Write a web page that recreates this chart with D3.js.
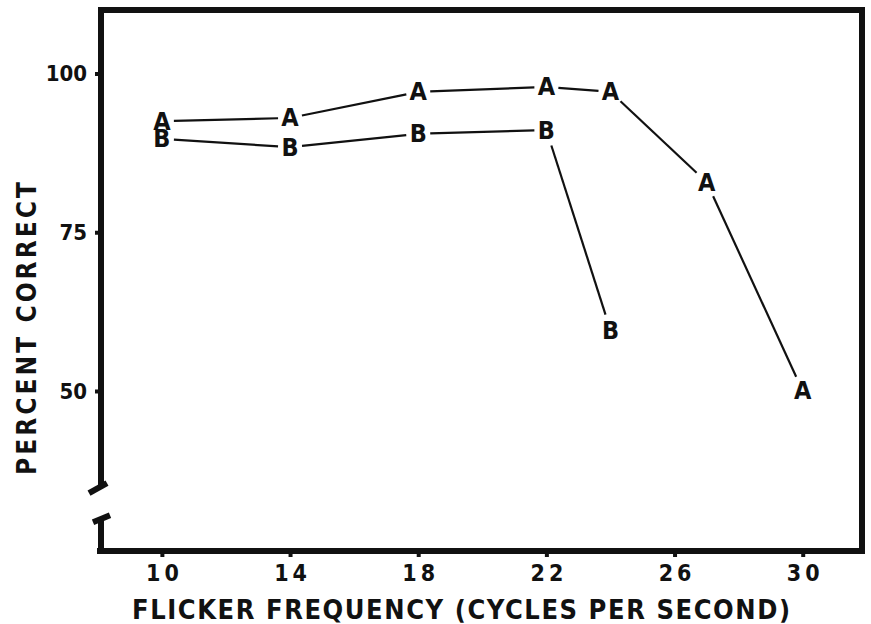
<!DOCTYPE html>
<html lang="en">
<head>
    <meta charset="UTF-8">
    <title>Flicker frequency</title>
    <script src="https://d3js.org/d3.v7.min.js"></script>
    <style>
        body { margin: 0; background: #fff; }
        text { font-family: "DejaVu Sans Condensed", "DejaVu Sans", sans-serif; font-weight: bold; fill: #111; }
    </style>
</head>
<body>
    <div id="my_dataviz"></div>
    <script>
        // data
        var freqA = [10, 14, 18, 22, 24, 27, 30];
        var pctA = [92.5, 93.0, 97.1, 97.9, 97.1, 82.9, 50.0];
        var freqB = [10, 14, 18, 22, 24];
        var pctB = [89.7, 88.4, 90.5, 91.1, 59.6];
        var xTicks = [10, 14, 18, 22, 26, 30];
        var yTicks = [50, 75, 100];

        var width = 871, height = 624;
        var plot = {left: 101, right: 862, top: 10, bottom: 551};

        var svg = d3.select("#my_dataviz")
          .append("svg")
            .attr("width", width)
            .attr("height", height);

        var x = d3.scaleLinear()
            .domain([8.1, 31.85])
            .range([plot.left, plot.right]);
        var y = d3.scaleLinear()
            .domain([24.8, 110])
            .range([plot.bottom, plot.top]);

        // frame: top and right border
        svg.append("path")
            .attr("d", "M" + (plot.left - 3) + "," + plot.top + "H" + plot.right + "V" + (plot.bottom + 3))
            .attr("fill", "none")
            .attr("stroke", "#111")
            .attr("stroke-width", 6);

        // x axis
        var xAxis = svg.append("g")
            .attr("transform", "translate(0," + plot.bottom + ")")
            .call(d3.axisBottom(x).tickValues(xTicks).tickSize(6).tickSizeOuter(0).tickPadding(8));
        xAxis.select(".domain")
            .attr("d", "M" + (plot.left - 4) + ",0H" + (plot.right + 3))
            .attr("stroke", "#111").attr("stroke-width", 6);
        xAxis.selectAll(".tick line").attr("stroke", "#111").attr("stroke-width", 4);
        xAxis.selectAll(".tick text")
            .style("font-size", "23px")
            .style("letter-spacing", "4px")
            .attr("dx", "2px");

        // y axis with a break near the bottom
        var yAxis = svg.append("g")
            .attr("transform", "translate(" + plot.left + ",0)")
            .call(d3.axisLeft(y).tickValues(yTicks).tickSize(6).tickSizeOuter(0).tickPadding(8));
        yAxis.select(".domain").remove();
        yAxis.selectAll(".tick line").attr("stroke", "#111").attr("stroke-width", 4);
        yAxis.selectAll(".tick text").style("font-size", "22px");

        var brk = y(32.8);
        var g = yAxis.append("g").attr("fill", "none").attr("stroke", "#111").attr("stroke-width", 6);
        g.append("path").attr("d", "M0," + plot.top + "V" + (brk - 15));
        g.append("path").attr("d", "M-12," + (brk - 7) + "L6," + (brk - 17));
        g.append("path").attr("d", "M-8," + (brk + 22) + "L9," + (brk + 15));
        g.append("path").attr("d", "M0," + (brk + 17) + "V" + (plot.bottom + 3));

        // axis titles
        svg.append("text")
            .attr("x", 132)
            .attr("y", 619)
            .attr("textLength", 658)
            .attr("lengthAdjust", "spacing")
            .style("font-size", "27px")
            .text("FLICKER FREQUENCY (CYCLES PER SECOND)");

        svg.append("text")
            .attr("transform", "translate(36,475) rotate(-90)")
            .attr("textLength", 293)
            .attr("lengthAdjust", "spacing")
            .style("font-size", "26px")
            .text("PERCENT CORRECT");

        // series drawn as letters joined by lines with gaps
        function drawSeries(fx, py, letter) {
            var pts = fx.map(function(d, i) { return [x(d), y(py[i])]; });
            var segs = d3.pairs(pts);
            svg.append("g")
              .selectAll("line")
              .data(segs)
              .enter()
              .append("line")
                .each(function(s) {
                    var dx = s[1][0] - s[0][0], dy = s[1][1] - s[0][1];
                    var len = Math.sqrt(dx * dx + dy * dy);
                    var ux = dx / len, uy = dy / len;
                    var gap = 1 / Math.sqrt((ux / 12) * (ux / 12) + (uy / 17) * (uy / 17));
                    d3.select(this)
                        .attr("x1", s[0][0] + ux * gap).attr("y1", s[0][1] + uy * gap)
                        .attr("x2", s[1][0] - ux * gap).attr("y2", s[1][1] - uy * gap);
                })
                .attr("stroke", "#111")
                .attr("stroke-width", 2.2);
            svg.append("g")
              .selectAll("text")
              .data(pts)
              .enter()
              .append("text")
                .attr("x", function(d) { return d[0]; })
                .attr("y", function(d) { return d[1]; })
                .attr("text-anchor", "middle")
                .attr("dominant-baseline", "central")
                .style("font-size", "25px")
                .text(letter);
        }
        drawSeries(freqA, pctA, "A");
        drawSeries(freqB, pctB, "B");
    </script>
</body>
</html>
